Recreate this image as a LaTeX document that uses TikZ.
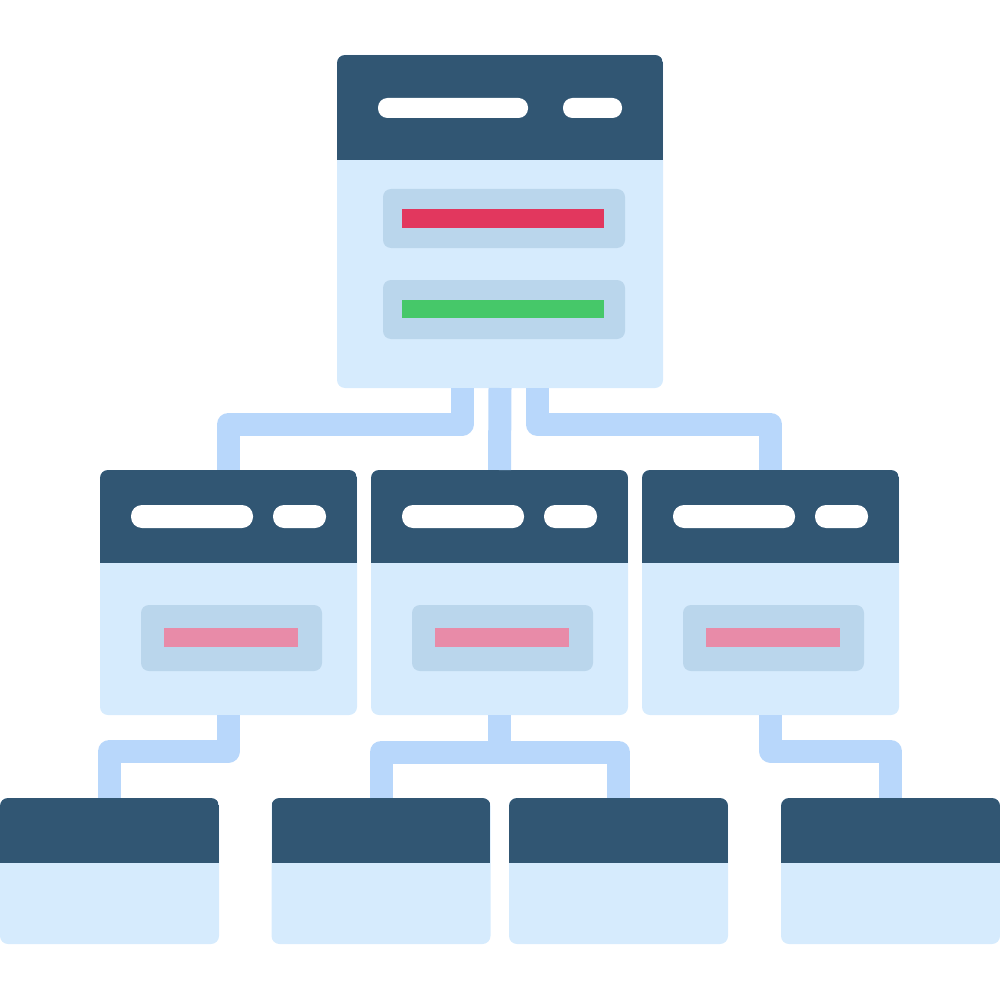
\documentclass[tikz,border=0pt]{standalone}
\usepackage{tikz}
\usepackage{xcolor}
\usetikzlibrary{positioning}

\definecolor{headnavy}{HTML}{315673}
\definecolor{bodyblue}{HTML}{D6EBFD}
\definecolor{linkblue}{HTML}{B8D7FB}
\definecolor{slotblue}{HTML}{BAD6EC}
\definecolor{barred}{HTML}{E2375E}
\definecolor{bargreen}{HTML}{46C869}
\definecolor{barpink}{HTML}{E88BA8}

\tikzset{
  win/.style={fill=bodyblue, rounded corners=8pt, inner sep=0pt, outer sep=0pt,
    path picture={\fill[headnavy, sharp corners] (path picture bounding box.north west)
      rectangle ([yshift=-#1]path picture bounding box.north east);}},
  pill/.style={fill=white, rounded corners=#1, inner sep=0pt, outer sep=0pt},
  pill/.default=9.5pt,
  slot/.style={fill=slotblue, rounded corners=8pt, inner sep=0pt, outer sep=0pt},
  bar/.style={fill=#1, inner sep=0pt, outer sep=0pt},
  link/.style={draw=linkblue, line width=23pt, line join=round}
}

\begin{document}
\begin{tikzpicture}[x=1pt,y=-1pt]
\useasboundingbox (0,0) rectangle (1000,1000);
% top window
\node[win=105pt, minimum width=326pt, minimum height=333pt] (top) at (500,221.5) {};
\node[pill, minimum width=150pt, minimum height=20pt] (top-tab) at (453,108) {};
\node[pill, minimum width=59pt, minimum height=20pt] (top-btn) at (592.5,108) {};
\node[slot, minimum width=242pt, minimum height=59pt] (top-slotA) at (504,218.5) {};
\node[bar=barred, minimum width=202pt, minimum height=19pt] (top-red) at (503,218.5) {};
\node[slot, minimum width=242pt, minimum height=59pt] (top-slotB) at (504,309.5) {};
\node[bar=bargreen, minimum width=202pt, minimum height=18pt] (top-green) at (503,309) {};
% middle row
\foreach \n/\cx in {midL/228.5, midC/499.5, midR/770.5} {
  \node[win=93pt, minimum width=257pt, minimum height=245pt] (\n) at (\cx,592.5) {};
  \node[pill=11pt, minimum width=122pt, minimum height=23pt] (\n-tab) at (\cx-36.5,516.5) {};
  \node[pill=11pt, minimum width=53pt, minimum height=23pt] (\n-btn) at (\cx+71,516.5) {};
  \node[slot, minimum width=181pt, minimum height=66pt] (\n-slot) at (\cx+3,638) {};
  \node[bar=barpink, minimum width=134pt, minimum height=19pt] (\n-bar) at (\cx+2.5,637.5) {};
}
% bottom row
\foreach \n/\cx in {botA/109.5, botB/381, botC/618.5, botD/890.5}
  \node[win=65pt, minimum width=219pt, minimum height=146pt] (\n) at (\cx,871) {};
% connectors
\draw[link] ([xshift=-38pt]top.south) -- ++(0,36) -| (midL.north);
\draw[link] (top.south) -- (midC.north);
\draw[link] ([xshift=37pt]top.south) -- ++(0,36) -| (midR.north);
\draw[link] (midL.south) -- ++(0,36) -| (botA.north);
\draw[link] (midC.south) -- ++(0,36);
\draw[link] (botB.north) -- ++(0,-46) -| (botC.north);
\draw[link] (midR.south) -- ++(0,36) -| (botD.north);
\end{tikzpicture}
\end{document}
